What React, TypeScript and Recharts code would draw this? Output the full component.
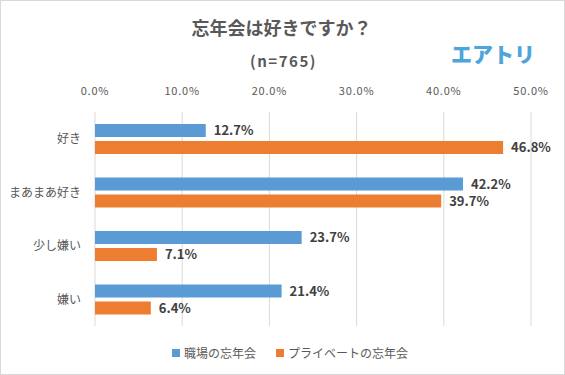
import { Bar, BarChart, CartesianGrid, LabelList, XAxis, YAxis } from "recharts";

const CATEGORIES = ["好き", "まあまあ好き", "少し嫌い", "嫌い"];
const WORK = [12.7, 42.2, 23.7, 21.4];
const PRIVATE = [46.8, 39.7, 7.1, 6.4];
const TICKS = [0, 10, 20, 30, 40, 50];

const SERIES = [
  { key: "work", name: "職場の忘年会", color: "#5B9BD5" },
  { key: "private", name: "プライベートの忘年会", color: "#ED7D31" },
];

const data = CATEGORIES.map((name, i) => ({ name, work: WORK[i], private: PRIVATE[i] }));

const FONT = '"Noto Sans CJK JP", "Noto Sans", sans-serif';

function LegendBox() {
  return (
    <div
      style={{
        position: "absolute",
        left: 0,
        width: 578,
        top: 343,
        display: "flex",
        justifyContent: "center",
        gap: 20,
        fontSize: 12,
        color: "#595959",
      }}
    >
      {SERIES.map((s) => (
        <span key={s.key} style={{ display: "flex", alignItems: "center", gap: 4 }}>
          <span style={{ width: 8, height: 8, background: s.color, display: "inline-block" }} />
          {s.name}
        </span>
      ))}
    </div>
  );
}

export default function App() {
  return (
    <div
      style={{
        position: "relative",
        width: 565,
        height: 375,
        boxSizing: "border-box",
        border: "1px solid #d9d9d9",
        background: "#fff",
        fontFamily: FONT,
      }}
    >
      <style>{"body{margin:0}"}</style>
      <div
        style={{
          position: "absolute",
          left: 0,
          width: 561,
          top: 13,
          textAlign: "center",
          fontSize: 18,
          fontWeight: 700,
          color: "#595959",
        }}
      >
        忘年会は好きですか？
      </div>
      <div
        style={{
          position: "absolute",
          left: 0,
          width: 565,
          top: 49,
          textAlign: "center",
          fontSize: 15,
          fontWeight: 700,
          color: "#595959",
          letterSpacing: 1.5,
        }}
      >
        (n=765)
      </div>
      <div
        style={{
          position: "absolute",
          left: 450,
          top: 37,
          fontSize: 21,
          fontWeight: 900,
          color: "#4EA5DB",
        }}
      >
        エアトリ
      </div>
      <div style={{ position: "absolute", left: -1, top: -1 }}>
        <BarChart
          width={565}
          height={375}
          data={data}
          layout="vertical"
          margin={{ top: 92, right: 34, bottom: 49, left: 0 }}
          barSize={13}
          barGap={4}
          style={{ fontFamily: FONT }}
        >
          <CartesianGrid horizontal={false} stroke="#d9d9d9" />
          <XAxis
            type="number"
            orientation="top"
            domain={[0, 50]}
            ticks={TICKS}
            tickFormatter={(v: number) => `${v.toFixed(1)}%`}
            axisLine={false}
            tickLine={false}
            tickSize={0}
            tickMargin={17}
            height={20}
            tick={{ fill: "#595959", fontSize: 11, letterSpacing: 0.8 }}
          />
          <YAxis
            type="category"
            dataKey="name"
            width={95}
            axisLine={false}
            tickLine={false}
            tickSize={0}
            tickMargin={14}
            tick={{ fill: "#595959", fontSize: 12 }}
          />
          {SERIES.map((s) => (
            <Bar key={s.key} dataKey={s.key} name={s.name} fill={s.color} isAnimationActive={false}>
              <LabelList
                dataKey={s.key}
                position="right"
                offset={8}
                formatter={(v: number) => `${v.toFixed(1)}%`}
                style={{ fill: "#404040", fontSize: 13, fontWeight: 700 }}
              />
            </Bar>
          ))}
        </BarChart>
      </div>
      <LegendBox />
    </div>
  );
}
